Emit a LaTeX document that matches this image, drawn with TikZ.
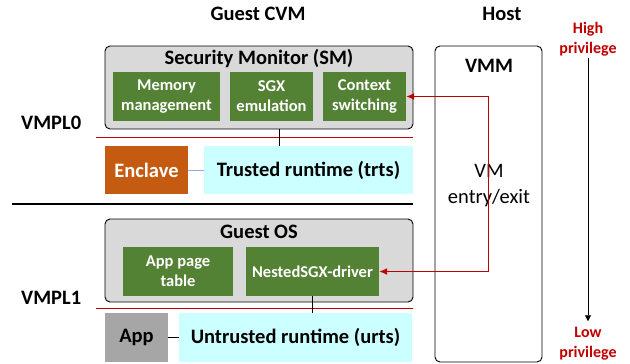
\documentclass[tikz,border=0pt]{standalone}
\usepackage{fontspec}
\setmainfont{Carlito}
\usetikzlibrary{arrows.meta}

\definecolor{smgray}{HTML}{D9D9D9}
\definecolor{modgreen}{HTML}{548235}
\definecolor{enclorange}{HTML}{C55A11}
\definecolor{rtcyan}{HTML}{CCFFFF}
\definecolor{appgray}{HTML}{A6A6A6}
\definecolor{privred}{HTML}{C00000}
\definecolor{linkblue}{HTML}{8FAADC}

\tikzset{
	big/.style={font=\fontsize{20.5}{25}\selectfont\bfseries},
	layer/.style={draw, fill=smgray, rounded corners=5pt, line width=0.9pt},
	module/.style={fill=modgreen, text=white, align=center, font=\fontsize{16.5}{20}\selectfont\bfseries},
	runtime/.style={fill=rtcyan, big},
	vmplline/.style={privred, line width=0.9pt},
}

\begin{document}
\begin{tikzpicture}[x=1pt, y=-1pt, inner sep=0pt]
		\useasboundingbox (0,0) rectangle (630,364);
		
		% Titel
		\node[big] (cvm) at (258, 14) {Guest CVM};
		\node[big] (host) at (502, 14) {Host};
		
		% VMPL0
		\node[layer, minimum width=308, minimum height=83] (sm) at (259, 87.5) {};
		\node[big] (smt) at (259, 59) {Security Monitor (SM)};
		\node[module, minimum width=107, minimum height=49] (mem) at (166.5, 96.5) {Memory\\management};
		\node[module, minimum width=83, minimum height=49] (sgx) at (271.5, 96.5) {SGX\\emulation};
		\node[module, minimum width=83, minimum height=49] (ctx) at (364.5, 96.5) {Context\\switching};
		\node[big, anchor=west] (vmpl0) at (21, 123) {VMPL0};
		\draw[vmplline] (96, 137.5) -- (413, 137.5);
		\node[fill=enclorange, text=white, big, minimum width=83, minimum height=48] (encl) at (146.5, 170) {Enclave};
		\node[runtime, minimum width=209, minimum height=48] (trts) at (308.5, 170) {Trusted runtime (trts)};
		\draw[linkblue, line width=1pt] (encl) -- (trts);
		\draw[line width=1pt] ([xshift=20pt]sm.south) -- ([xshift=20pt]sm.south |- trts.north);
		
		\draw[line width=2pt] (12, 204) -- (413, 204);
		
		% VMPL1
		\node[layer, minimum width=308, minimum height=83] (os) at (259, 260.5) {};
		\node[big] (ost) at (259, 232) {Guest OS};
		\node[module, minimum width=110, minimum height=49] (apt) at (178, 271.5) {App page\\table};
		\node[module, minimum width=133, minimum height=49] (drv) at (312.5, 271.5) {NestedSGX-driver};
		\node[big, anchor=west] (vmpl1) at (21, 298) {VMPL1};
		\draw[vmplline] (96, 308) -- (413, 308);
		\node[fill=appgray, big, minimum width=63, minimum height=49] (app) at (136.5, 337.5) {App};
		\node[runtime, minimum width=233, minimum height=49] (urts) at (295.5, 337.5) {Untrusted runtime (urts)};
		\draw[line width=1pt] (app) -- (urts);
		\draw[line width=1pt] (drv.south) -- (drv.south |- urts.north);
		
		% Host
		\node[draw, rounded corners=5pt, line width=0.9pt, fill=white, minimum width=107, minimum height=316] (vmm) at (488.5, 204) {};
		\node[big] (vmmt) at (489, 66) {VMM};
		\node[font=\fontsize{20.5}{26}\selectfont, align=center] (entry) at (489, 186) {VM\\entry/exit};
		\draw[privred, line width=1.3pt, {Latex[length=8pt,width=7pt]}-{Latex[length=8pt,width=7pt]}] (ctx.east) -- (vmm.center |- ctx.east) -- (vmm.center |- drv.east) -- (drv.east);
		
		% Privileg
		\node[privred, align=center, font=\fontsize{16}{20}\selectfont\bfseries] (high) at (588, 39) {High\\privilege};
		\node[privred, align=center, font=\fontsize{16}{20}\selectfont\bfseries] (low) at (588, 344) {Low\\privilege};
		\draw[-{Triangle[length=6pt,width=6pt]}, line width=0.8pt, shorten <=2pt, shorten >=6pt] (high) -- (low);
	\end{tikzpicture}
\end{document}
